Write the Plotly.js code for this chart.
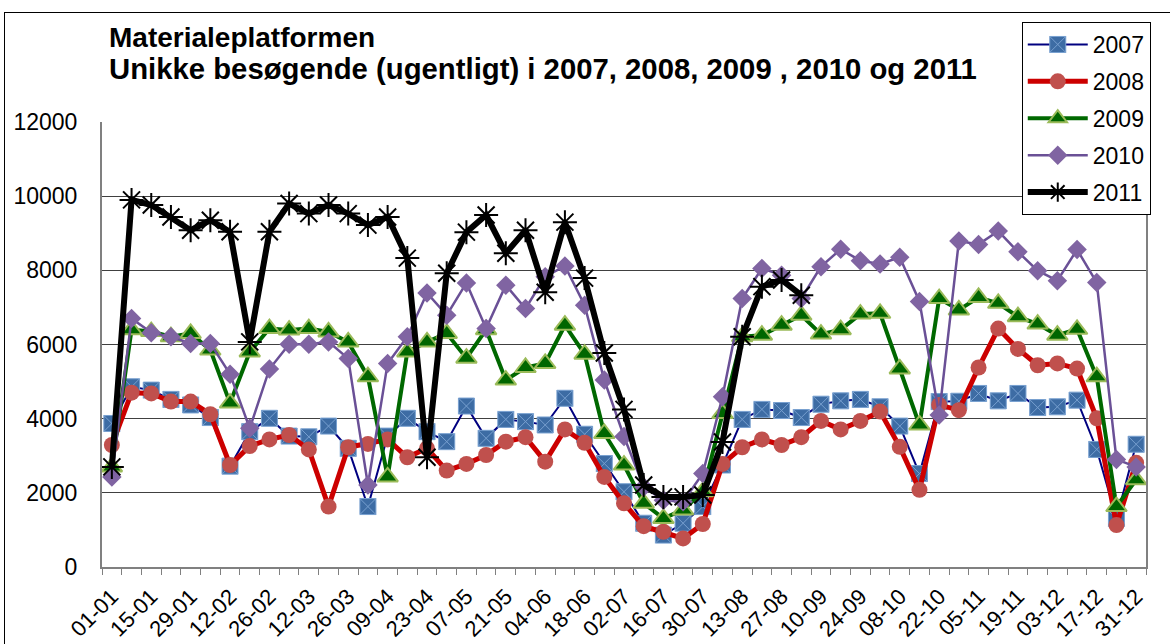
<!DOCTYPE html>
<html>
<head>
<meta charset="utf-8">
<script src="https://cdn.plot.ly/plotly-3.0.1.min.js"></script>
<style>
  html, body { margin: 0; padding: 0; background: #fff; overflow: hidden; }
  #chart { position: absolute; left: 0; top: 0; width: 1170px; height: 644px; }
  #frame { position: absolute; left: 4px; top: 12px; width: 1200px; height: 700px;
           border: 1px solid #000; pointer-events: none; }
</style>
</head>
<body>
<div id="chart"></div>
<div id="frame"></div>
<script>
const weeks = ["01-01","08-01","15-01","22-01","29-01","05-02","12-02","19-02","26-02","05-03",
  "12-03","19-03","26-03","02-04","09-04","16-04","23-04","30-04","07-05","14-05",
  "21-05","28-05","04-06","11-06","18-06","25-06","02-07","09-07","16-07","23-07",
  "30-07","06-08","13-08","20-08","27-08","03-09","10-09","17-09","24-09","01-10",
  "08-10","15-10","22-10","29-10","05-11","12-11","19-11","26-11","03-12","10-12",
  "17-12","24-12","31-12"];

const seriesNames = ["2007","2008","2009","2010","2011"];

const v2007 = [3870,4860,4770,4520,4370,4030,2720,3650,4010,3530,3510,3800,3200,
  1630,3530,4010,3650,3380,4340,3470,3980,3920,3830,4550,3580,2790,2030,
  1180,860,1180,1630,2750,3980,4250,4220,4030,4390,4480,4520,4320,3800,
  2520,4460,4470,4680,4480,4680,4300,4320,4500,3170,1310,3310];

const v2008 = [3290,4700,4680,4460,4460,4120,2750,3260,3440,3560,3170,1630,3230,
  3320,3440,2960,3200,2600,2780,3020,3380,3500,2840,3710,3350,2430,1720,
  1100,950,770,1160,2780,3230,3440,3290,3500,3940,3710,3940,4190,3240,
  2080,4370,4230,5380,6430,5880,5440,5490,5350,4010,1130,2810];

const v2009 = [2700,6400,6350,6210,6300,5850,4420,5800,6430,6390,6430,6340,6070,
  5130,2430,5800,6070,6300,5630,6400,5040,5380,5490,6520,5740,3600,2750,
  1720,1310,1540,2030,4140,6210,6250,6520,6790,6280,6400,6820,6840,5340,
  3830,7240,6930,7270,7110,6750,6550,6250,6410,5130,1630,2350];

const v2010 = [2430,6700,6320,6210,6030,6030,5200,3740,5340,6010,6010,6070,5620,
  2210,5490,6210,7390,6790,7660,6430,7600,6970,7830,8120,7060,5040,3520,
  2160,1800,1760,2520,4590,7240,8050,7870,7240,8100,8570,8260,8170,8350,
  7160,4100,8790,8700,9060,8500,7990,7720,8560,7670,2900,2700];

const v2011 = [2700,9900,9760,9440,9080,9350,9040,6070,9040,9800,9530,9760,9530,
  9220,9440,8330,2960,7920,9030,9490,8460,9080,7410,9300,7790,5770,4250,
  2210,1890,1890,1940,3370,6210,7560,7740,7330];

const titleLine1 = "Materialeplatformen";
const titleLine2 = "Unikke besøgende (ugentligt) i 2007, 2008, 2009 , 2010 og 2011";
const yTicks = [0,2000,4000,6000,8000,10000,12000];

const tickText = weeks.map((w, i) => (i % 2 === 0 ? w : ""));
const FONT = "Liberation Sans, Arial, sans-serif";

const traces = [
  { name: seriesNames[0], x: weeks, y: v2007, type: "scatter", mode: "lines+markers",
    legendgroup: "a",
    line: { color: "#000080", width: 2 },
    marker: { symbol: "square-x", size: 16, color: "#3d6ca4", line: { color: "#78a0d0", width: 1 } } },
  { name: seriesNames[1], x: weeks, y: v2008, type: "scatter", mode: "lines+markers",
    legendgroup: "b",
    line: { color: "#cc0000", width: 5 },
    marker: { symbol: "circle", size: 16, color: "#c0504d", line: { width: 0 } } },
  { name: seriesNames[2], x: weeks, y: v2009, type: "scatter", mode: "lines+markers",
    legendgroup: "c",
    line: { color: "#006800", width: 4 },
    marker: { symbol: "triangle-up", size: 18, color: "#006600", line: { color: "#9bbb59", width: 2 } } },
  { name: seriesNames[3], x: weeks, y: v2010, type: "scatter", mode: "lines+markers",
    legendgroup: "d",
    line: { color: "#6a5096", width: 2.5 },
    marker: { symbol: "diamond", size: 15, color: "#8064a2", line: { width: 0 } } },
  { name: seriesNames[4], x: weeks.slice(0, v2011.length), y: v2011, type: "scatter", mode: "lines+markers",
    legendgroup: "e",
    line: { color: "#000000", width: 6 },
    marker: { symbol: "asterisk-open", size: 20, color: "#000000", line: { color: "#000000", width: 2 } } }
];

const layout = {
  width: 1170, height: 644,
  margin: { l: 102, r: 24, t: 122, b: 77 },
  paper_bgcolor: "#ffffff", plot_bgcolor: "#ffffff",
  font: { family: FONT, color: "#000" },
  showlegend: true,
  legend: {
    x: 0.881, xanchor: "left", y: 1.2247, yanchor: "top",
    bordercolor: "#000", borderwidth: 1, bgcolor: "#fff",
    font: { family: FONT, size: 23, color: "#000" },
    traceorder: "grouped", tracegroupgap: 4,
    itemwidth: 60
  },
  xaxis: {
    type: "category",
    tickmode: "array", tickvals: weeks, ticktext: tickText,
    tickson: "boundaries",
    ticks: "outside", ticklen: 6, tickcolor: "#808080", tickwidth: 1,
    tickangle: -45, ticklabelstandoff: 6,
    tickfont: { family: FONT, size: 22, color: "#000" },
    showline: true, linecolor: "#808080", linewidth: 2,
    showgrid: false, zeroline: false,
    range: [-0.5, 52.5], fixedrange: true
  },
  yaxis: {
    range: [0, 12000],
    tickmode: "array", tickvals: yTicks, ticktext: yTicks.map(String),
    ticks: "", ticklabelstandoff: 18,
    tickfont: { family: FONT, size: 23, color: "#000" },
    showline: true, linecolor: "#808080", linewidth: 2, mirror: true,
    showgrid: true, gridcolor: "#404040", gridwidth: 1,
    zeroline: false, fixedrange: true
  },
  annotations: [
    { text: "<b>" + titleLine1 + "</b>", xref: "paper", yref: "paper",
      x: 0.0048, xanchor: "left", y: 1.191, yanchor: "middle", showarrow: false,
      font: { family: FONT, size: 28, color: "#000" } },
    { text: "<b>" + titleLine2 + "</b>", xref: "paper", yref: "paper",
      x: 0.0048, xanchor: "left", y: 1.121, yanchor: "middle", showarrow: false,
      font: { family: FONT, size: 29.3, color: "#000" } }
  ]
};

Plotly.newPlot("chart", traces, layout, { displayModeBar: false, staticPlot: true });
</script>
</body>
</html>
